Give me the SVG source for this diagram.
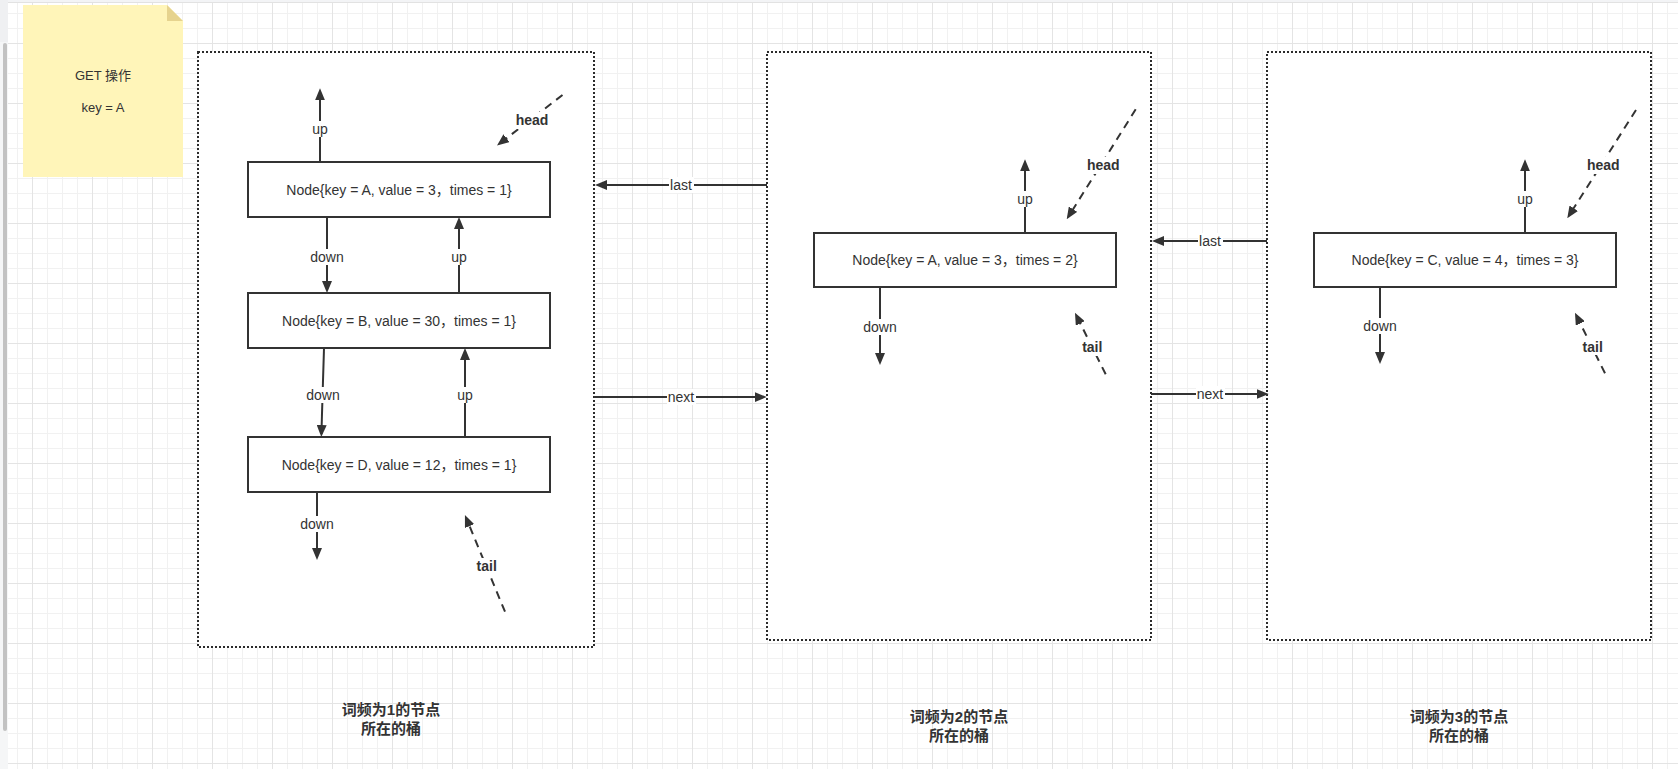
<svg xmlns="http://www.w3.org/2000/svg" width="1678" height="769" viewBox="0 0 1678 769">
<defs>
<pattern id="grid" x="32" y="43" width="60" height="60" patternUnits="userSpaceOnUse">
<rect width="60" height="60" fill="#ffffff"/>
<rect x="15" y="0" width="1" height="60" fill="#f1f1f1"/>
<rect x="30" y="0" width="1" height="60" fill="#f1f1f1"/>
<rect x="45" y="0" width="1" height="60" fill="#f1f1f1"/>
<rect x="0" y="15" width="60" height="1" fill="#f1f1f1"/>
<rect x="0" y="30" width="60" height="1" fill="#f1f1f1"/>
<rect x="0" y="45" width="60" height="1" fill="#f1f1f1"/>
<rect x="0" y="0" width="1" height="60" fill="#e4e4e4"/>
<rect x="0" y="0" width="60" height="1" fill="#e4e4e4"/>
</pattern>
<marker id="arr" viewBox="0 0 12 10" refX="9" refY="5" markerWidth="12" markerHeight="10" markerUnits="userSpaceOnUse" orient="auto">
<path d="M0,0 L12,5 L0,10 z" fill="#333333"/>
</marker>
<style>
.txt{font-family:"Liberation Sans","Noto Sans CJK SC",sans-serif;fill:#333333;text-anchor:middle;dominant-baseline:central}
.node rect{fill:#ffffff;stroke:#333333;stroke-width:2}
.node text{font-size:14px}
.bucket rect{fill:#ffffff;stroke:#2b2b2b;stroke-width:2;stroke-dasharray:2 2}
.bucket text{font-size:15px;font-weight:bold}
.edge{fill:none;stroke:#333333;stroke-width:2;marker-end:url(#arr)}
.dash{stroke-dasharray:8 6}
.lbl{font-size:14px}
.blbl{font-size:14px;font-weight:bold}
.lbg{fill:#ffffff}
</style>
</defs>

<!-- background canvas -->
<rect x="0" y="0" width="1678" height="769" fill="#ffffff"/>
<rect x="8" y="3" width="1670" height="766" fill="url(#grid)"/>
<rect x="0" y="0" width="1678" height="2" fill="#f3f4f6"/>
<rect x="0" y="2" width="1678" height="1" fill="#e2e2e2"/>
<rect x="0" y="0" width="8" height="769" fill="#f5f6f7"/>
<rect x="0" y="0" width="8" height="42" fill="#eff0f2"/>
<rect x="3" y="43" width="4" height="688" rx="2" fill="#c2c2c2"/>

<!-- sticky note -->
<g id="note">
<path d="M23,5 H167 L183,21 V177 H23 z" fill="#fff5b9"/>
<path d="M167,5 L183,21 H167 z" fill="#e6d38e"/>
<text class="txt" x="103" y="75" font-size="13">GET 操作</text>
<text class="txt" x="103" y="107" font-size="13">key = A</text>
</g>

<!-- buckets -->
<g id="bucket1" class="bucket">
<rect x="198" y="52" width="396" height="595"/>
<text class="txt" x="391" y="709">词频为1的节点</text>
<text class="txt" x="391" y="728">所在的桶</text>
</g>
<g id="bucket2" class="bucket">
<rect x="767" y="52" width="384" height="588"/>
<text class="txt" x="959" y="716">词频为2的节点</text>
<text class="txt" x="959" y="735">所在的桶</text>
</g>
<g id="bucket3" class="bucket">
<rect x="1267" y="52" width="384" height="588"/>
<text class="txt" x="1459" y="716">词频为3的节点</text>
<text class="txt" x="1459" y="735">所在的桶</text>
</g>

<!-- nodes -->
<g id="nodeA1" class="node">
<rect x="248" y="162" width="302" height="55"/>
<text class="txt" x="399" y="189.5">Node{key = A, value = 3，times = 1}</text>
</g>
<g id="nodeB1" class="node">
<rect x="248" y="293" width="302" height="55"/>
<text class="txt" x="399" y="320.5">Node{key = B, value = 30，times = 1}</text>
</g>
<g id="nodeD1" class="node">
<rect x="248" y="437" width="302" height="55"/>
<text class="txt" x="399" y="464.5">Node{key = D, value = 12，times = 1}</text>
</g>
<g id="nodeA2" class="node">
<rect x="814" y="233" width="302" height="54"/>
<text class="txt" x="965" y="260">Node{key = A, value = 3，times = 2}</text>
</g>
<g id="nodeC3" class="node">
<rect x="1314" y="233" width="302" height="54"/>
<text class="txt" x="1465" y="260">Node{key = C, value = 4，times = 3}</text>
</g>

<!-- connectors -->
<g id="connectors">
<!-- bucket 1 -->
<path class="edge" d="M320,162 V91.3"/>
<rect class="lbg" x="311" y="121" width="18" height="16"/>
<text class="txt lbl" x="320" y="129">up</text>

<path class="edge" d="M327,217 V290"/>
<rect class="lbg" x="309" y="249" width="36" height="16"/>
<text class="txt lbl" x="327" y="256.7">down</text>

<path class="edge" d="M459,293 V220"/>
<rect class="lbg" x="450" y="249" width="18" height="16"/>
<text class="txt lbl" x="459" y="256.7">up</text>

<path class="edge" d="M324,348 L321.4,434"/>
<rect class="lbg" x="305" y="387" width="36" height="16"/>
<text class="txt lbl" x="323" y="394.7">down</text>

<path class="edge" d="M465,437 V351"/>
<rect class="lbg" x="456" y="387" width="18" height="16"/>
<text class="txt lbl" x="465" y="394.5">up</text>

<path class="edge" d="M317,492 V557"/>
<rect class="lbg" x="299" y="516" width="36" height="16"/>
<text class="txt lbl" x="317" y="524.3">down</text>

<path class="edge dash" d="M562.5,95 L499.4,143.7"/>
<rect class="lbg" x="514" y="112" width="36" height="17"/>
<text class="txt blbl" x="532" y="120">head</text>

<path class="edge dash" d="M505,611.7 L466.1,517.8"/>
<rect class="lbg" x="475" y="558" width="24" height="17"/>
<text class="txt blbl" x="486.7" y="566">tail</text>

<!-- between buckets 1 and 2 -->
<path class="edge" d="M767,185 H598"/>
<rect class="lbg" x="669" y="177" width="25" height="16"/>
<text class="txt lbl" x="681" y="185">last</text>

<path class="edge" d="M594,397 H763.7"/>
<rect class="lbg" x="667" y="389" width="29" height="16"/>
<text class="txt lbl" x="681" y="397">next</text>

<!-- bucket 2 -->
<path class="edge" d="M1025,233 V162.3"/>
<rect class="lbg" x="1016" y="191" width="18" height="16"/>
<text class="txt lbl" x="1025" y="199">up</text>

<path class="edge" d="M880,287 V362"/>
<rect class="lbg" x="862" y="319" width="36" height="16"/>
<text class="txt lbl" x="880" y="326.7">down</text>

<path class="edge dash" d="M1135.7,109.3 L1068.3,216.8"/>
<rect class="lbg" x="1085" y="157" width="36" height="17"/>
<text class="txt blbl" x="1103.3" y="165">head</text>

<path class="edge dash" d="M1105.7,374.3 L1076.3,315.4"/>
<rect class="lbg" x="1081" y="339" width="24" height="17"/>
<text class="txt blbl" x="1092.3" y="347.3">tail</text>

<!-- between buckets 2 and 3 -->
<path class="edge" d="M1267,241 H1155"/>
<rect class="lbg" x="1198" y="233" width="25" height="16"/>
<text class="txt lbl" x="1210" y="241">last</text>

<path class="edge" d="M1151,394 H1265.7"/>
<rect class="lbg" x="1196" y="386" width="29" height="16"/>
<text class="txt lbl" x="1210" y="394">next</text>

<!-- bucket 3 -->
<path class="edge" d="M1525,233 V162.3"/>
<rect class="lbg" x="1516" y="191" width="18" height="16"/>
<text class="txt lbl" x="1525" y="198.7">up</text>

<path class="edge" d="M1380,287 V361"/>
<rect class="lbg" x="1362" y="318" width="36" height="16"/>
<text class="txt lbl" x="1380" y="326.3">down</text>

<path class="edge dash" d="M1636,110 L1568.9,215.8"/>
<rect class="lbg" x="1585" y="157" width="36" height="17"/>
<text class="txt blbl" x="1603.3" y="165">head</text>

<path class="edge dash" d="M1605,373.3 L1576.3,315.4"/>
<rect class="lbg" x="1581" y="338" width="24" height="17"/>
<text class="txt blbl" x="1592.7" y="346.7">tail</text>
</g>
</svg>
